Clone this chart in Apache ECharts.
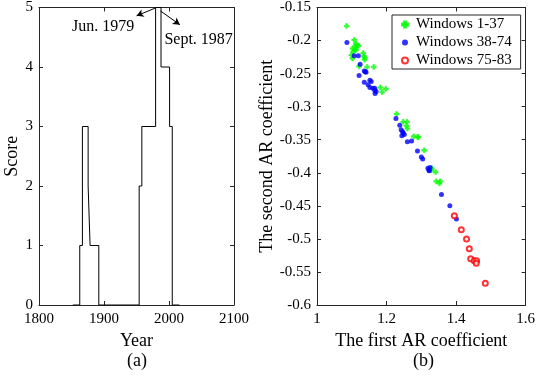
<!DOCTYPE html>
<html>
<head>
<meta charset="utf-8">
<script src="https://cdn.jsdelivr.net/npm/echarts@6/dist/echarts.min.js"></script>
<style>
html,body{margin:0;padding:0;background:#fff;}
#chart{width:538px;height:377px;}
</style>
</head>
<body>
<div id="chart"></div>
<script>
// ---- Panel (a): step score over years ----
const stepYears  = [1852, 1862.7, 1866.8, 1875.6, 1878.6, 1892, 1954.1, 1958.2, 1979.4, 1987.7, 2000.9, 2005, 2016];
const stepScores = [0, 1, 3, 2, 1, 0, 2, 3, 5, 4, 3, 0, 0];
const yearTicks = [1800, 1900, 2000, 2100];
const scoreTicks = [0, 1, 2, 3, 4, 5];
// annotations (data coordinates)
const annJun  = {text: 'Jun. 1979',  at: [1898.6, 4.68], from: [1978.7, 4.99], to: [1950.1, 4.86]};
const annSept = {text: 'Sept. 1987', at: [2045.6, 4.45], from: [1987.1, 4.94], to: [2016.8, 4.71]};

// ---- Panel (b): AR coefficients ----
const win1_37_x = [1.085,1.107,1.102,1.109,1.116,1.119,1.112,1.099,1.102,1.133,1.135,1.137,1.121,1.144,1.163,1.182,1.198,1.187,1.229,1.248,1.259,1.260,1.257,1.278,1.289,1.308,1.329,1.341,1.343,1.354,1.352,1.112,1.104,1.138,1.330,1.110,1.291];
const win1_37_y = [-0.178,-0.199,-0.212,-0.209,-0.207,-0.208,-0.214,-0.222,-0.227,-0.219,-0.224,-0.229,-0.239,-0.240,-0.240,-0.271,-0.273,-0.278,-0.311,-0.323,-0.323,-0.333,-0.329,-0.345,-0.346,-0.366,-0.396,-0.399,-0.413,-0.413,-0.416,-0.205,-0.217,-0.226,-0.393,-0.213,-0.346];
const win38_74_x = [1.086,1.107,1.119,1.124,1.136,1.139,1.121,1.136,1.147,1.152,1.156,1.152,1.166,1.170,1.167,1.166,1.227,1.238,1.242,1.248,1.244,1.251,1.260,1.272,1.289,1.300,1.304,1.319,1.325,1.323,1.358,1.382,1.401,1.141,1.161,1.246,1.322];
const win38_74_y = [-0.203,-0.223,-0.223,-0.236,-0.246,-0.247,-0.253,-0.263,-0.267,-0.260,-0.262,-0.271,-0.272,-0.277,-0.280,-0.275,-0.318,-0.328,-0.335,-0.340,-0.344,-0.342,-0.353,-0.352,-0.367,-0.376,-0.379,-0.393,-0.392,-0.397,-0.433,-0.450,-0.470,-0.248,-0.272,-0.338,-0.396];
const win75_83_x = [1.395,1.415,1.430,1.438,1.442,1.452,1.459,1.458,1.484];
const win75_83_y = [-0.465,-0.486,-0.500,-0.515,-0.530,-0.533,-0.533,-0.537,-0.567];
const seriesNames = ['Windows 1-37', 'Windows 38-74', 'Windows 75-83'];

const zip = (xs, ys) => xs.map((x, i) => [x, ys[i]]);
const FONT = 'Liberation Serif';
const AX = '#262626';
const plain = v => String(Math.round(v * 1000) / 1000);

function mkX(grid, pos, min, max, interval, show, name) {
  return {
    type: 'value', gridIndex: grid, position: pos, min: min, max: max, interval: interval,
    axisLine: {show: true, onZero: false, lineStyle: {color: AX, width: 1}},
    axisTick: {show: true, inside: true, length: 4, lineStyle: {color: AX}},
    axisLabel: {show: show, color: '#000', fontFamily: FONT, fontSize: 15, margin: 7, formatter: plain},
    splitLine: {show: false},
    name: name || '', nameLocation: 'middle', nameGap: 20,
    nameTextStyle: {color: '#000', fontFamily: FONT, fontSize: 18}
  };
}
function mkY(grid, pos, min, max, interval, show, name, gap) {
  return {
    type: 'value', gridIndex: grid, position: pos, min: min, max: max, interval: interval,
    axisLine: {show: true, onZero: false, lineStyle: {color: AX, width: 1}},
    axisTick: {show: true, inside: true, length: 4, lineStyle: {color: AX}},
    axisLabel: {show: show, color: '#000', fontFamily: FONT, fontSize: 15, margin: 6, formatter: plain},
    splitLine: {show: false},
    name: name || '', nameLocation: 'middle', nameGap: gap || 20,
    nameTextStyle: {color: '#000', fontFamily: FONT, fontSize: 18}
  };
}

const chart = echarts.init(document.getElementById('chart'), null, {renderer: 'canvas'});
chart.setOption({
  animation: false,
  backgroundColor: '#fff',
  textStyle: {fontFamily: FONT},
  grid: [
    {left: 39, top: 7, width: 195, height: 298},
    {left: 317, top: 7, width: 212, height: 298}
  ],
  xAxis: [
    mkX(0, 'bottom', yearTicks[0], yearTicks[yearTicks.length - 1], 100, true, 'Year'),
    mkX(0, 'top', yearTicks[0], yearTicks[yearTicks.length - 1], 100, false),
    mkX(1, 'bottom', 1, 1.6, 0.2, true, 'The first AR coefficient'),
    mkX(1, 'top', 1, 1.6, 0.2, false)
  ],
  yAxis: [
    mkY(0, 'left', scoreTicks[0], scoreTicks[scoreTicks.length - 1], 1, true, 'Score', 13),
    mkY(0, 'right', scoreTicks[0], scoreTicks[scoreTicks.length - 1], 1, false),
    mkY(1, 'left', -0.6, -0.15, 0.05, true, 'The second AR coefficient', 37),
    mkY(1, 'right', -0.6, -0.15, 0.05, false)
  ],
  legend: {
    data: seriesNames,
    orient: 'vertical',
    left: 392, top: 15,
    padding: [2, 9, 1, 9],
    itemGap: 3,
    itemWidth: 6, itemHeight: 6,
    backgroundColor: '#fff',
    borderColor: AX, borderWidth: 1,
    textStyle: {color: '#000', fontFamily: FONT, fontSize: 15, padding: [0, 0, 0, 3]}
  },
  graphic: [
    {type: 'text', style: {text: '(a)', font: '18px Liberation Serif', fill: '#000'}, left: 127, top: 352},
    {type: 'text', style: {text: '(b)', font: '18px Liberation Serif', fill: '#000'}, left: 413, top: 352}
  ],
  series: [
    {
      type: 'line', xAxisIndex: 0, yAxisIndex: 0, step: 'end', symbol: 'none',
      lineStyle: {color: '#000', width: 1},
      data: zip(stepYears, stepScores),
      markLine: {
        silent: true, symbol: ['none', 'arrow'], symbolSize: [6, 7],
        lineStyle: {color: '#000', width: 1, type: 'solid'}, label: {show: false},
        data: [
          [{coord: annJun.from}, {coord: annJun.to}],
          [{coord: annSept.from}, {coord: annSept.to}]
        ]
      },
      markPoint: {
        silent: true, symbol: 'circle', symbolSize: 0,
        label: {show: true, position: 'inside', color: '#000', fontFamily: FONT, fontSize: 16},
        data: [
          {coord: annJun.at, label: {formatter: annJun.text}},
          {coord: annSept.at, label: {formatter: annSept.text}}
        ]
      }
    },
    {
      name: seriesNames[0], type: 'scatter', xAxisIndex: 2, yAxisIndex: 2,
      symbol: 'path://M2,0H4V2H6V4H4V6H2V4H0V2H2Z', symbolSize: 5,
      itemStyle: {color: '#00ff00', borderColor: '#00ff00', borderWidth: 0.5},
      data: zip(win1_37_x, win1_37_y)
    },
    {
      name: seriesNames[1], type: 'scatter', xAxisIndex: 2, yAxisIndex: 2,
      symbol: 'circle', symbolSize: 5,
      itemStyle: {color: '#0000ff'},
      data: zip(win38_74_x, win38_74_y)
    },
    {
      name: seriesNames[2], type: 'scatter', xAxisIndex: 2, yAxisIndex: 2,
      symbol: 'emptyCircle', symbolSize: 5,
      itemStyle: {color: '#ff0000', borderColor: '#ff0000', borderWidth: 1},
      data: zip(win75_83_x, win75_83_y)
    }
  ]
});
</script>
</body>
</html>
